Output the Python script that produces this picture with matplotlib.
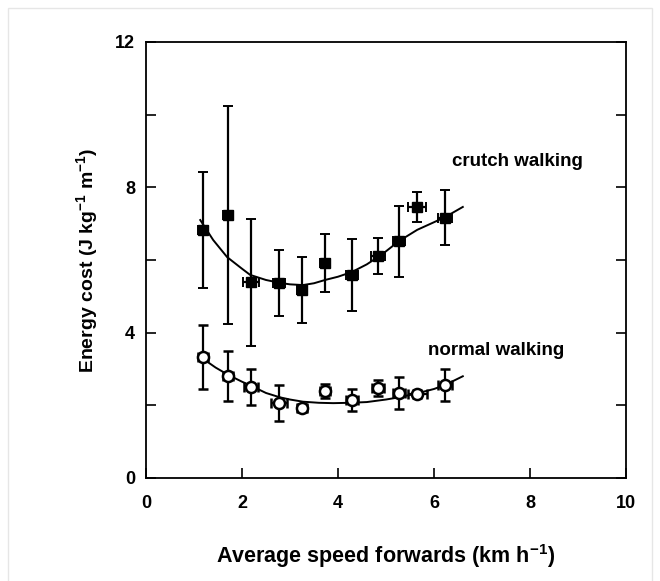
import numpy as np
import matplotlib
matplotlib.use('Agg')
import matplotlib.pyplot as plt
from matplotlib.patches import Rectangle

plt.rcParams['font.family'] = ['Liberation Sans', 'DejaVu Sans']

###=========== data ===========
speed = [1.19, 1.71, 2.19, 2.77, 3.25, 3.73, 4.29, 4.83, 5.27, 5.65, 6.23]
speed_err = [0.1, 0.1, 0.17, 0.12, 0.1, 0.1, 0.12, 0.15, 0.12, 0.19, 0.15]

crutch = [6.83, 7.24, 5.39, 5.37, 5.17, 5.92, 5.59, 6.11, 6.52, 7.46, 7.16]
crutch_err = [1.6, 3.0, 1.75, 0.9, 0.9, 0.8, 1.0, 0.5, 0.98, 0.41, 0.76]

normal = [3.33, 2.81, 2.50, 2.06, 1.93, 2.39, 2.15, 2.48, 2.34, 2.31, 2.56]
normal_err = [0.87, 0.69, 0.5, 0.5, 0.12, 0.2, 0.31, 0.22, 0.45, 0.1, 0.43]
normal_xerr = [0.1, 0.1, 0.15, 0.16, 0.1, 0.1, 0.12, 0.12, 0.12, 0.2, 0.15]

# fitted curves (traced)
crutch_fit_x = [1.13, 1.4, 1.69, 2.0, 2.17, 2.5, 2.79, 3.0, 3.27, 3.5, 3.73, 4.0, 4.29, 4.6, 4.83, 5.0, 5.27, 5.65, 6.0, 6.23, 6.6]
crutch_fit_y = [7.10, 6.55, 6.08, 5.76, 5.59, 5.45, 5.37, 5.33, 5.31, 5.36, 5.45, 5.54, 5.67, 5.88, 6.08, 6.24, 6.52, 6.83, 7.04, 7.18, 7.46]
normal_fit_x = [1.19, 1.45, 1.71, 2.0, 2.17, 2.5, 2.79, 3.0, 3.27, 3.6, 3.9, 4.25, 4.6, 5.0, 5.27, 5.65, 6.0, 6.23, 6.6]
normal_fit_y = [3.28, 3.04, 2.84, 2.65, 2.55, 2.34, 2.22, 2.16, 2.10, 2.07, 2.06, 2.07, 2.09, 2.16, 2.22, 2.33, 2.45, 2.56, 2.80]

###=========== draw ===========
fig = plt.figure(figsize=(6.6, 5.81), dpi=100)
fig.patches.append(Rectangle((8/660, -0.01), 644/660, 1 - 8/581 + 0.01, transform=fig.transFigure,
                             fill=False, edgecolor='#e6e6e6', linewidth=1))
ax = fig.add_axes([146/660, 103/581, 480/660, 436/581])

ax.plot(crutch_fit_x, crutch_fit_y, color='black', linewidth=1.4, zorder=2)
ax.plot(normal_fit_x, normal_fit_y, color='black', linewidth=1.4, zorder=2)

ax.errorbar(speed, crutch, yerr=crutch_err, xerr=speed_err, fmt='s', color='black',
            markersize=7.5, markerfacecolor='black', ecolor='black', elinewidth=1.6,
            capsize=3.5, capthick=1.4, zorder=3)
ax.errorbar(speed, normal, yerr=normal_err, xerr=normal_xerr, fmt='o', color='black',
            markersize=8, markerfacecolor='white', markeredgewidth=1.8, ecolor='black',
            elinewidth=1.6, capsize=3.5, capthick=1.4, zorder=3)

ax.text(7.73, 8.7, 'crutch walking', ha='center', va='center', fontsize=13.5, fontweight='bold')
ax.text(7.30, 3.52, 'normal walking', ha='center', va='center', fontsize=13.5, fontweight='bold')

ax.set_xlim(0, 10)
ax.set_ylim(0, 12)
ax.set_xticks([0, 2, 4, 6, 8, 10])
ax.set_yticks([0, 4, 8, 12])
ax.set_yticks([2, 6, 10], minor=True)
ax.tick_params(which='both', direction='in', length=7, width=1.2, right=True, labelsize=13)
ax.tick_params(axis='x', pad=12)
ax.tick_params(axis='y', pad=8)
for lab in ax.get_xticklabels() + ax.get_yticklabels():
    lab.set_fontweight('bold')
for s in ax.spines.values():
    s.set_linewidth(1.3)

ax.set_xlabel('Average speed forwards (km h$^{\\mathregular{-1}}$)', fontsize=15.5,
              fontweight='bold', labelpad=22)
ax.set_ylabel('Energy cost (J kg$^{\\mathregular{-1}}$ m$^{\\mathregular{-1}}$)', fontsize=14,
              fontweight='bold', labelpad=10)

plt.savefig('out.png', dpi=100)
